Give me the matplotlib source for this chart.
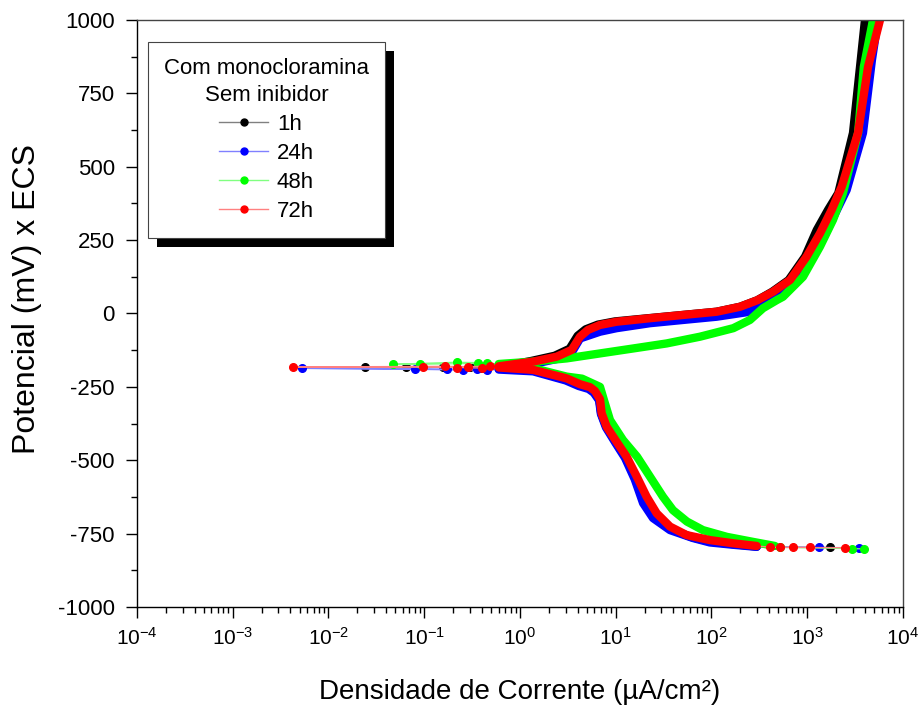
import matplotlib.pyplot as plt
from matplotlib.lines import Line2D
from matplotlib.patches import Rectangle
from matplotlib.ticker import MultipleLocator, LogLocator, NullFormatter

plt.rcParams['font.family'] = ['Liberation Sans', 'DejaVu Sans']
plt.rcParams['mathtext.default'] = 'regular'
plt.rcParams['axes.unicode_minus'] = False

# ========================================
# dados (i em uA/cm2, E em mV)
# ========================================
rotulos = ['1h', '24h', '48h', '72h']
cores = ['#000000', '#0000ff', '#00ff00', '#ff0000']
cores_linha = ['#808080', '#8080ff', '#80ff80', '#ff8080']

# pontos soltos no fim do ramo catodico (~ -800 mV)
cauda_i_1h = [1727]
cauda_E_1h = [-797]
cauda_i_24h = [3470, 1328]
cauda_E_24h = [-798, -797]
cauda_i_48h = [3910, 2932, 519]
cauda_E_48h = [-802, -801, -797]
cauda_i_72h = [2477, 1068, 710, 519, 408]
cauda_E_72h = [-798, -797, -797, -797, -796]

# ramo catodico (de -800 ate Ecorr)
cat_i_1h = [297, 169, 96, 62, 37, 25, 19.6, 16, 12.7, 10.0, 8.0, 7.05, 6.75, 6.0, 5.3, 4.15, 3.0, 1.37, 0.6]
cat_E_1h = [-794, -786, -777, -762, -734, -692, -640, -562, -490, -438, -387, -341, -294, -268, -254, -244, -225, -194, -187]
cat_i_24h = [297, 169, 96, 64.1, 36.9, 24.5, 19.3, 15.8, 12.5, 9.9, 7.9, 7.0, 6.7, 5.9, 5.2, 4.1, 3.0, 1.37, 0.6]
cat_E_24h = [-795, -788, -780, -765, -738, -697, -646, -565, -492, -440, -388, -342, -296, -270, -257, -247, -228, -197, -191]
cat_i_48h = [460, 271, 145, 81.5, 55.5, 39.6, 31.1, 22.8, 16.7, 11.9, 8.71, 7.53, 6.85, 4.45, 3.07, 1.37, 0.6]
cat_E_48h = [-792, -778, -761, -738, -709, -670, -624, -556, -488, -431, -363, -295, -250, -222, -215, -186, -176]
cat_i_72h = [297, 169, 96.4, 55.1, 36.9, 26.8, 21.0, 16.6, 13.0, 10.2, 8.05, 7.13, 6.85, 6.07, 5.39, 4.24, 3.07, 1.37, 0.6]
cat_E_72h = [-792, -783, -772, -755, -726, -681, -624, -556, -488, -437, -386, -340, -292, -264, -251, -241, -221, -192, -184]

# pontos soltos perto de Ecorr
ecorr_i_1h = [0.40, 0.0644, 0.024, 0.156, 0.30]
ecorr_E_1h = [-184, -182, -181, -183, -182]
ecorr_i_24h = [0.449, 0.256, 0.080, 0.00525, 0.172, 0.353]
ecorr_E_24h = [-192, -193, -190, -187, -189, -190]
ecorr_i_48h = [0.367, 0.0903, 0.0468, 0.218, 0.45]
ecorr_E_48h = [-170, -173, -173, -166, -168]
ecorr_i_72h = [0.40, 0.22, 0.0971, 0.00423, 0.165, 0.288, 0.486]
ecorr_E_72h = [-186, -184, -183, -182, -180, -181, -179]

# ramo anodico (de Ecorr ate 1000 mV)
ano_i_1h = [0.6, 1.3, 2.3, 3.3, 4.0, 4.85, 6.5, 9.8, 22, 50, 113, 199, 300, 430, 640, 950, 1256, 1650, 2110, 3006, 3560, 4009]
ano_E_1h = [-182, -162, -144, -120, -76, -54, -38, -27, -16, -5, 6, 23, 45, 74, 114, 194, 284, 353, 410, 615, 840, 1000]
ano_i_24h = [0.6, 1.37, 2.42, 3.47, 4.24, 6.85, 10.2, 22.8, 50.4, 113, 252, 321, 480, 745, 1000, 1330, 2582, 3820, 4740, 5480]
ano_E_24h = [-188, -172, -155, -133, -85, -62, -50, -33, -22, -11, 6, 23, 60, 104, 170, 228, 421, 615, 864, 1000]
ano_i_48h = [0.6, 1.37, 3.07, 6.85, 15.3, 34.0, 75.9, 169, 252, 345, 483, 558, 903, 1359, 1858, 2360, 3400, 3900, 4864]
ano_E_48h = [-172, -164, -153, -136, -119, -102, -79, -50, -22, 18, 46, 57, 125, 228, 319, 410, 615, 840, 1000]
ano_i_72h = [0.6, 1.37, 2.42, 3.47, 4.24, 5.13, 6.85, 10.2, 22.8, 50.4, 113, 199, 300, 439, 661, 986, 1359, 1799, 2291, 3390, 4315, 5754]
ano_E_72h = [-180, -164, -147, -124, -79, -56, -39, -28, -16, -5, 6, 23, 45, 74, 114, 194, 273, 353, 432, 615, 840, 1000]

series = [
    (cauda_i_1h, cauda_E_1h, cat_i_1h, cat_E_1h, ecorr_i_1h, ecorr_E_1h, ano_i_1h, ano_E_1h),
    (cauda_i_24h, cauda_E_24h, cat_i_24h, cat_E_24h, ecorr_i_24h, ecorr_E_24h, ano_i_24h, ano_E_24h),
    (cauda_i_48h, cauda_E_48h, cat_i_48h, cat_E_48h, ecorr_i_48h, ecorr_E_48h, ano_i_48h, ano_E_48h),
    (cauda_i_72h, cauda_E_72h, cat_i_72h, cat_E_72h, ecorr_i_72h, ecorr_E_72h, ano_i_72h, ano_E_72h),
]

fig = plt.figure(figsize=(9.2, 7.06), dpi=100)
ax = fig.add_axes([0.1489, 0.1402, 0.8326, 0.8315])

for k, (ti, tE, ci, cE, ei, eE, ai, aE) in enumerate(series):
    z = 2 + k * 0.1
    # linha fina ligando todos os pontos na ordem da varredura
    ax.plot(ti + ci + ei + ai, tE + cE + eE + aE, color=cores_linha[k], lw=0.9, zorder=z)
    # regioes densas de pontos
    ax.plot(ci, cE, color=cores[k], lw=6, solid_capstyle='round', solid_joinstyle='round', zorder=z + 0.01)
    ax.plot(ai, aE, color=cores[k], lw=6, solid_capstyle='round', solid_joinstyle='round', zorder=z + 0.01)
    # pontos isolados
    ax.plot(ti + ei, tE + eE, 'o', ms=5.5, color=cores[k], zorder=z + 0.02)

ax.set_xscale('log')
ax.set_xlim(1e-4, 1e4)
ax.set_ylim(-1000, 1000)
ax.set_yticks(range(-1000, 1001, 250))
ax.yaxis.set_minor_locator(MultipleLocator(125))
ax.xaxis.set_major_locator(LogLocator(base=10, numticks=20))
ax.xaxis.set_minor_locator(LogLocator(base=10, subs=range(2, 10), numticks=100))
ax.xaxis.set_minor_formatter(NullFormatter())

ax.tick_params(which='both', direction='out', top=False, right=False, width=1, labelsize=15)
ax.tick_params(which='major', length=8)
ax.tick_params(which='minor', length=4)
ax.tick_params(axis='y', pad=8, labelsize=16)
ax.tick_params(axis='x', pad=6)
for s in ax.spines.values():
    s.set_linewidth(1)
ax.spines['top'].set_color('#444444')
ax.spines['right'].set_color('#444444')

ax.set_xlabel('Densidade de Corrente (µA/cm²)', fontsize=20, labelpad=22)
ax.set_ylabel('Potencial (mV) x ECS', fontsize=23)
ax.yaxis.set_label_coords(-0.124, 0.525)

# legenda
handles = [Line2D([0], [0], color=cores_linha[k], lw=1, marker='o', ms=5,
                  mfc=cores[k], mec=cores[k]) for k in range(4)]
leg = ax.legend(handles, rotulos, title='Com monocloramina\nSem inibidor',
                loc='upper left', bbox_to_anchor=(0.0144, 0.9625), borderaxespad=0,
                fontsize=16, title_fontsize=16, alignment='center',
                fancybox=False, framealpha=1, edgecolor='#444444',
                handlelength=2.2, handletextpad=0.4, labelspacing=0.35,
                borderpad=0.72)
leg.get_frame().set_linewidth(0.8)
leg.get_title().set_multialignment('center')
leg.get_title().set_linespacing(1.4)
leg.set_zorder(10)

# sombra preta deslocada atras da legenda
fig.canvas.draw()
bb = leg.get_window_extent()
inv = ax.transAxes.inverted()
x0, y0 = inv.transform((bb.x0 + 9, bb.y0 - 9))
x1, y1 = inv.transform((bb.x1 + 9, bb.y1 - 9))
ax.add_patch(Rectangle((x0, y0), x1 - x0, y1 - y0, transform=ax.transAxes,
                       facecolor='black', edgecolor='none', zorder=9))

fig.savefig('out.png', dpi=100)
